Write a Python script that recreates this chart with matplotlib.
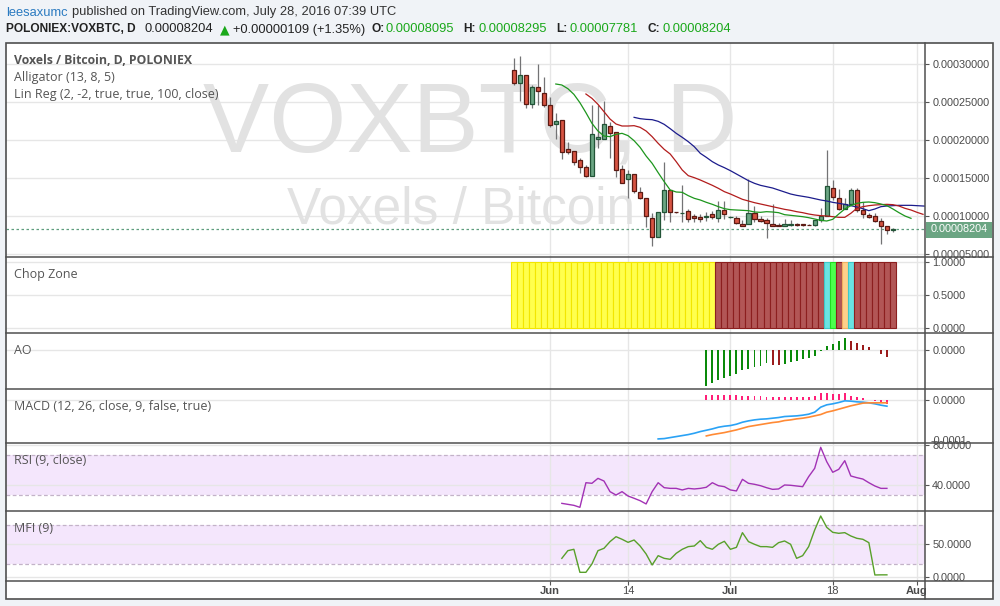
import numpy as np
import pandas as pd
import matplotlib
matplotlib.use('Agg')
import matplotlib.pyplot as plt
from matplotlib.patches import Rectangle
from matplotlib.lines import Line2D
import matplotlib.transforms as mtransforms

# ---------------- data (prices in satoshi = 1e-8 BTC) ----------------
dates = pd.date_range('2016-05-26', '2016-07-28', freq='D')
opens = [29101, 27478, 28487, 24627, 26864, 26074, 24495, 21995, 22522, 18750,
         18487, 17302, 16425, 15241, 20109, 20066, 21776, 20943, 16074, 14759,
         15417, 13136, 12259, 9627, 7127, 10417, 13311, 10460, 10329, 10592,
         9890, 9802, 9802, 10153, 9627, 10680, 9760, 9627, 8837, 8837,
         10329, 9539, 9364, 8925, 8750, 8574, 8750, 8837, 8837, 8800,
         8750, 9364, 9978, 13574, 12259, 10855, 11557, 13399, 10767, 10066,
         9890, 9276, 8574, 8095]
highs = [30680, 30987, 28487, 27171, 29934, 28267, 25548, 23443, 22522, 19627,
         18487, 17609, 16645, 24539, 24539, 25066, 22346, 20943, 16645, 15987,
         15417, 13794, 12259, 10285, 10417, 16995, 13311, 10500, 14013, 10855,
         10153, 10241, 10504, 10592, 11908, 11908, 10000, 9890, 9451, 14802,
         11293, 9978, 9627, 11557, 9013, 9539, 9364, 9013, 8925, 8900,
         9364, 10943, 18574, 14627, 13487, 12259, 13574, 13574, 11820, 10329,
         10329, 9627, 8662, 8295]
lows = [27171, 25066, 24101, 24101, 24539, 24320, 21601, 20066, 17434, 18048,
        16645, 15548, 15022, 15241, 18925, 20066, 17522, 15022, 14232, 12259,
        13004, 12127, 8530, 6031, 7127, 9408, 9101, 10300, 9188, 9188,
        9188, 9188, 9276, 9495, 9188, 9539, 9627, 8837, 8662, 8837,
        9101, 9101, 6995, 8662, 8574, 8574, 8662, 8574, 8662, 8700,
        8662, 9188, 9978, 12083, 10680, 10855, 11557, 10417, 9715, 9715,
        9101, 6294, 7522, 7781]
closes = [27478, 28487, 24627, 26864, 26425, 24495, 21864, 22434, 18399, 18311,
          17083, 16337, 15241, 20680, 20373, 21995, 20899, 16030, 14232, 15417,
          13267, 12259, 9978, 7215, 10417, 13311, 10504, 10417, 10373, 9539,
          9627, 9495, 9890, 9846, 10680, 10153, 9802, 9013, 8662, 10329,
          9539, 9276, 9013, 8662, 8574, 8837, 8837, 8750, 8750, 8750,
          9364, 9978, 13837, 12434, 10855, 11469, 13311, 10767, 10241, 9802,
          9276, 8574, 8095, 8204]

# Alligator lines
lips_start, teeth_start, jaw_start = '2016-06-02', '2016-06-07', '2016-06-15'
lips = [27302, 27171, 26688, 25943, 24846, 23531, 22127, 21118, 20460, 20373,
        20680, 20811, 20504, 19846, 18969, 17829, 16864, 15636, 14452, 13355,
        13092, 13048, 12610, 12259, 12039, 11732, 11469, 11162, 10899, 10767,
        10723, 10680, 10636, 10460, 10417, 10504, 10460, 10373, 10110, 10022,
        9934, 9846, 9715, 9539, 9364, 9276, 9495, 10197, 10855, 11294,
        11601, 11732, 11776, 11688, 11513, 11294, 10855, 10373, 9934, 9627]
teeth = [25987, 25417, 24627, 23662, 22697, 22039, 21776, 21776, 21820, 21601,
         21118, 20373, 19495, 18706, 18092, 17083, 15987, 15241, 14978, 14671,
         14320, 13969, 13575, 13136, 12829, 12478, 12127, 11908, 11688, 11513,
         11338, 11162, 10987, 10811, 10680, 10504, 10373, 10197, 10066, 9978,
         9934, 9846, 9759, 9759, 10285, 10943, 11162, 11294, 11382, 11425,
         11469, 11425, 11250, 10943, 10723, 10417, 10154]
jaw = [22916, 22741, 22653, 22609, 22390, 21995, 21425, 20811, 20285, 19715,
       19057, 18180, 17653, 17083, 16645, 16294, 15899, 15461, 15022, 14583,
       14232, 13969, 13794, 13618, 13355, 13092, 12829, 12653, 12522, 12390,
       12214, 12039, 11908, 11732, 11601, 11469, 11294, 11118, 10899, 10636,
       10855, 11162, 11250, 11294, 11338, 11338, 11338, 11294, 11250, 11206]

# Chop zone colour categories per day
chop = (['yellow'] * 34 + ['darkred'] * 18 +
        ['turquoise', 'lime', 'darkred', 'orange', 'turquoise'] + ['darkred'] * 7)

# Awesome oscillator (from 2016-06-27)
ao_start = '2016-06-27'
ao = [-7267, -6667, -6133, -5667, -5267, -4800, -4133, -3800, -3467, -3200,
      -2667, -3067, -3100, -2933, -2533, -2267, -1933, -1667, -1333, -267,
      667, 1200, 1800, 2300, 1700, 1300, 900, 450, -100, -800, -1400]

# MACD
macd_start, signal_start = '2016-06-19', '2016-06-27'
macd = [-8933, -8855, -8622, -8390, -8157, -7924, -7613, -7225, -6914, -6603,
        -6214, -5981, -5826, -5515, -5050, -4739, -4506, -4350, -4272, -4117,
        -3962, -3729, -3651, -3574, -3418, -3185, -2719, -1554, -1010, -777,
        -466, -78, -155, -311, -388, -544, -777, -1088, -1321]
signal = [-8236, -7925, -7692, -7459, -7148, -6838, -6449, -6061, -5828, -5594,
          -5361, -5128, -4973, -4662, -4507, -4274, -4118, -3885, -3574, -3263,
          -2720, -2409, -2020, -1632, -1243, -932, -622, -544, -544, -544, -544]
hist = [1235, 1328, 1328, 1235, 1165, 1165, 1095, 1095, 1002, 932,
        862, 862, 769, 699, 769, 699, 699, 769, 1002, 1631,
        1631, 1561, 1561, 1631, 1095, 769, 536, 163, -117, -583, -862]

# RSI / MFI (from 2016-06-03)
osc_start = '2016-06-03'
rsi = [21.6, 20.6, 19.6, 17.6, 42.4, 41.8, 46.8, 44.1, 33.4, 30.0,
       33.4, 29.0, 26.7, 24.3, 21.0, 33.4, 42.4, 37.4, 36.7, 36.7,
       35.1, 36.7, 36.1, 36.7, 37.8, 42.4, 39.4, 38.4, 35.1, 34.1,
       45.8, 41.8, 40.8, 39.4, 37.4, 35.7, 36.1, 40.1, 39.8, 39.1,
       38.4, 48.5, 56.9, 78.1, 63.6, 52.9, 55.9, 64.6, 49.2, 47.5,
       46.1, 42.4, 39.1, 36.7, 36.7]
mfi = [28.7, 40.5, 42.6, 7.2, 7.2, 20.0, 40.5, 44.1, 54.4, 62.0,
       58.0, 53.3, 56.9, 47.7, 35.4, 18.5, 32.8, 28.7, 27.2, 36.4,
       42.6, 46.7, 47.7, 55.9, 45.6, 42.6, 50.3, 54.9, 42.6, 45.6,
       68.2, 54.4, 50.3, 46.7, 46.7, 45.6, 52.8, 55.4, 50.3, 28.7,
       32.8, 46.7, 72.3, 93.8, 76.4, 68.7, 67.2, 68.2, 63.1, 59.5,
       58.0, 52.8, 3.1, 3.3, 3.3]

tick_dates = ['2016-06-01', '2016-06-14', '2016-07-01', '2016-07-18', '2016-08-01']
tick_labels = ['Jun', '14', 'Jul', '18', 'Aug']
last_price = 8204

# ---------------- helpers ----------------
REF = pd.Timestamp('2016-06-01')
def dnum(d):
    return np.asarray((pd.DatetimeIndex(d) - REF).days, dtype=float)

def series_x(start, n):
    return dnum(pd.date_range(start, periods=n, freq='D'))

SAT = 1e-8
W, H = 1000, 606
X0, XR, X1 = 6.3, 925.3, 993.3
XL = ((X0 - 549.8) / 6.02, (XR - 549.8) / 6.02)

fig = plt.figure(figsize=(W / 100, H / 100), dpi=100)
fig.patch.set_facecolor('#f0f3f7')

def R(x0, y0, x1, y1):
    return [x0 / W, 1 - y1 / H, (x1 - x0) / W, (y1 - y0) / H]

def fx(x):
    return x / W

def fy(y):
    return 1 - y / H

AXFONT = 'Liberation Sans'
tick_x = dnum(tick_dates)

def setup(ax, ylim, yticks, fmt):
    ax.set_xlim(XL)
    ax.set_ylim(ylim)
    ax.set_facecolor('white')
    for s in ax.spines.values():
        s.set_visible(False)
    ax.set_xticks(tick_x)
    ax.tick_params(axis='x', bottom=False, labelbottom=False)
    ax.set_yticks(yticks)
    ax.set_yticklabels([fmt % v for v in yticks])
    ax.yaxis.tick_right()
    ax.tick_params(axis='y', right=True, left=False, length=3.0, width=0.8,
                   color='#555555', labelsize=7.8, labelcolor='#4a4a4a', pad=2,
                   labelfontfamily=AXFONT)
    ax.grid(True, color='#e6e6e6', lw=1.0)
    ax.set_axisbelow(True)

# white frame background
fig.add_artist(Rectangle((fx(X0), fy(599.3)), fx(X1) - fx(X0), fy(43.3) - fy(599.3),
                         transform=fig.transFigure, facecolor='white',
                         edgecolor='none', zorder=-10))

panels = {
    'main': (43.3, 257.3), 'chop': (257.3, 333.3), 'ao': (333.3, 389.3),
    'macd': (389.3, 443.3), 'rsi': (443.3, 511.0), 'mfi': (511.0, 580.7),
}

LEG = dict(transform=None, ha='left', va='center', fontsize=9.0,
           color='#555555', family='Open Sans', zorder=8)
def legend(ax, y, s, **kw):
    d = dict(LEG)
    d['transform'] = fig.transFigure
    d.update(kw)
    ax.text(fx(14), fy(y), s, **d)

# ---------------- main price panel ----------------
axm = fig.add_axes(R(X0, panels['main'][0], XR, panels['main'][1]))
yt = np.array([5, 10, 15, 20, 25, 30]) * 1e-5
setup(axm, (4.5e-5, 3.2658e-4), yt, '%.8f')

xd = dnum(dates)
o = np.array(opens) * SAT
h = np.array(highs) * SAT
l = np.array(lows) * SAT
c = np.array(closes) * SAT
up = c >= o
axm.vlines(xd, l, h, color='#737375', lw=0.9, zorder=3)
fill = np.where(up, '#6ba583', '#d75442')
edge = np.where(up, '#225437', '#5b1a13')
axm.bar(xd, np.abs(c - o), bottom=np.minimum(o, c), width=0.7,
        color=fill, edgecolor=edge, linewidth=0.9, zorder=4)

axm.plot(series_x(jaw_start, len(jaw)), np.array(jaw) * SAT, color='#1c1c8c', lw=0.9, zorder=5)
axm.plot(series_x(teeth_start, len(teeth)), np.array(teeth) * SAT, color='#b21c1c', lw=0.9, zorder=5)
axm.plot(series_x(lips_start, len(lips)), np.array(lips) * SAT, color='#1d961d', lw=0.9, zorder=5)

axm.axhline(last_price * SAT, color='#5e9e7e', lw=0.9, ls=(0, (2, 2)), zorder=2)

# watermark
axm.text(fx(470), fy(151.7), 'VOXBTC, D', transform=fig.transFigure, ha='center',
         va='baseline', fontsize=71.4, color='#e2e2e2', family='Liberation Sans', zorder=0.6)
axm.text(fx(461), fy(223.5), 'Voxels / Bitcoin', transform=fig.transFigure, ha='center',
         va='baseline', fontsize=37, color='#e2e2e2', family='Liberation Sans', zorder=0.6)

legend(axm, 60.5, 'Voxels / Bitcoin, D, POLONIEX', fontweight='bold', fontsize=8.85)
legend(axm, 77.5, 'Alligator (13, 8, 5)')
legend(axm, 94.5, 'Lin Reg (2, -2, true, true, 100, close)')

# last price label on axis
ly = 229.5
fig.add_artist(Rectangle((fx(XR + 1), fy(ly + 8)), fx(X1 - 1) - fx(XR + 1), fy(ly - 8) - fy(ly + 8),
                         transform=fig.transFigure, facecolor='#6ba583', edgecolor='none', zorder=12))
fig.text(fx(931), fy(ly), '%.8f' % (last_price * SAT), color='white', fontsize=7.8,
         family=AXFONT, ha='left', va='center', zorder=13)

# ---------------- Chop Zone ----------------
axc = fig.add_axes(R(X0, panels['chop'][0], XR, panels['chop'][1]))
setup(axc, (-0.076, 1.079), [0.0, 0.5, 1.0], '%.4f')
chop_fill = {'yellow': '#ffff4d', 'darkred': '#b25656', 'turquoise': '#6ae3e3',
             'lime': '#4dff4d', 'orange': '#ffd08a'}
chop_edge = {'yellow': '#f2e600', 'darkred': '#8c1f1f', 'turquoise': '#3fc9c9',
             'lime': '#22dd22', 'orange': '#f0b060'}
axc.bar(xd, np.ones(len(xd)), width=1.0, bottom=0,
        color=[chop_fill[k] for k in chop], edgecolor=[chop_edge[k] for k in chop],
        linewidth=0.8, zorder=3)
legend(axc, 274.5, 'Chop Zone')

# ---------------- AO ----------------
axa = fig.add_axes(R(X0, panels['ao'][0], XR, panels['ao'][1]))
setup(axa, (-7.96e-5, 3.24e-5), [0.0], '%.4f')
aov = np.array(ao) * SAT
ao_col = ['#0a8a0a'] + ['#0a8a0a' if aov[i] >= aov[i - 1] else '#9b1c1c' for i in range(1, len(aov))]
axa.bar(series_x(ao_start, len(ao)), aov, width=0.32, color=ao_col, zorder=3)
legend(axa, 350, 'AO')

# ---------------- MACD ----------------
axd = fig.add_axes(R(X0, panels['macd'][0], XR, panels['macd'][1]))
setup(axd, (-9.95e-5, 2.6e-5), [0.0], '%.4f')
axd.bar(series_x(signal_start, len(hist)), np.array(hist) * SAT, width=0.32,
        color='#ff1f78', zorder=3)
axd.plot(series_x(macd_start, len(macd)), np.array(macd) * SAT, color='#2aa2f5', lw=1.2, zorder=4)
axd.plot(series_x(signal_start, len(signal)), np.array(signal) * SAT, color='#ff8a35', lw=1.2, zorder=4)
legend(axd, 406.5, 'MACD (12, 26, close, 9, false, true)')
fig.text(fx(931), fy(441.5), '-0.0001', color='#4a4a4a', fontsize=7.8, family=AXFONT,
         ha='left', va='center', zorder=5)

# ---------------- RSI ----------------
axr = fig.add_axes(R(X0, panels['rsi'][0], XR, panels['rsi'][1]))
setup(axr, (13.9, 82.1), [40.0, 80.0], '%.4f')
axr.axhspan(30, 70, color='#f4e6fc', zorder=0.2, lw=0)
for v in (30, 70):
    axr.axhline(v, color='#c3b3c8', lw=0.9, ls=(0, (3, 2)), zorder=1)
axr.plot(series_x(osc_start, len(rsi)), rsi, color='#a232b5', lw=1.0, zorder=4)
legend(axr, 461, 'RSI (9, close)')

# ---------------- MFI ----------------
axf = fig.add_axes(R(X0, panels['mfi'][0], XR, panels['mfi'][1]))
setup(axf, (-5.7, 101.5), [0.0, 50.0], '%.4f')
axf.axhspan(20, 80, color='#f4e6fc', zorder=0.2, lw=0)
for v in (20, 80):
    axf.axhline(v, color='#c3b3c8', lw=0.9, ls=(0, (3, 2)), zorder=1)
axf.plot(series_x(osc_start, len(mfi)), mfi, color='#58a02a', lw=1.0, zorder=4)
legend(axf, 528, 'MFI (9)')

# ---------------- x axis strip ----------------
axx = fig.add_axes(R(X0, 580.7, XR, 599.3))
axx.set_xlim(XL)
axx.set_ylim(0, 1)
axx.set_facecolor('white')
for s in axx.spines.values():
    s.set_visible(False)
axx.set_yticks([])
axx.set_xticks(tick_x)
axx.tick_params(axis='x', direction='in', top=True, bottom=False, labelbottom=False,
                length=3.0, width=0.8, color='#555555')
blend = mtransforms.blended_transform_factory(axx.transData, axx.transAxes)
for xv, lab in zip(tick_x, tick_labels):
    axx.text(xv, 0.45, lab, transform=blend, ha='center', va='center', fontsize=8,
             family=AXFONT, color='#4a4a4a',
             fontweight='bold' if not lab.isdigit() else 'normal')

# ---------------- separators & frame ----------------
for yy in (257.3, 333.3, 389.3, 443.3, 511.0, 580.7):
    fig.add_artist(Line2D([fx(X0), fx(X1)], [fy(yy), fy(yy)], color='#4f4f4f',
                          lw=1.1, transform=fig.transFigure, zorder=20))
fig.add_artist(Line2D([fx(XR), fx(XR)], [fy(43.3), fy(599.3)], color='#4f4f4f',
                      lw=1.1, transform=fig.transFigure, zorder=20))
fig.add_artist(Rectangle((fx(X0), fy(599.3)), fx(X1) - fx(X0), fy(43.3) - fy(599.3),
                         transform=fig.transFigure, fill=False, edgecolor='#4f4f4f',
                         lw=1.2, zorder=21))

# ---------------- header ----------------
HF = 'Liberation Sans'
def head(x, y, s, color='#333333', weight='normal', size=9.3):
    fig.text(fx(x), fy(y), s, color=color, fontsize=size, family=HF, fontweight=weight,
             ha='left', va='center')

GREEN = '#1aa81a'
DARK = '#222222'
head(5.7, 12.5, 'leesaxumc', color='#2a7ac0')
head(71.5, 12.5, 'published on TradingView.com, July 28, 2016 07:39 UTC')
head(5.7, 29.5, 'POLONIEX:VOXBTC, D', weight='bold', color=DARK, size=8.6)
head(144.7, 29.5, '0.00008204', color=DARK)
fig.text(fx(224.5), fy(29.5), '\u25B2', color=GREEN, fontsize=9, family='DejaVu Sans',
         ha='center', va='center')
head(232.7, 29.5, '+0.00000109 (+1.35%)', color=DARK)
head(371.5, 29.5, 'O:', weight='bold', color=DARK, size=8.6)
head(386, 29.5, '0.00008095', color=GREEN)
head(463.5, 29.5, 'H:', weight='bold', color=DARK, size=8.6)
head(478.5, 29.5, '0.00008295', color=GREEN)
head(556.5, 29.5, 'L:', weight='bold', color=DARK, size=8.6)
head(570, 29.5, '0.00007781', color=GREEN)
head(647.5, 29.5, 'C:', weight='bold', color=DARK, size=8.6)
head(662.5, 29.5, '0.00008204', color=GREEN)

fig.savefig('out.png', dpi=100, facecolor=fig.get_facecolor())
